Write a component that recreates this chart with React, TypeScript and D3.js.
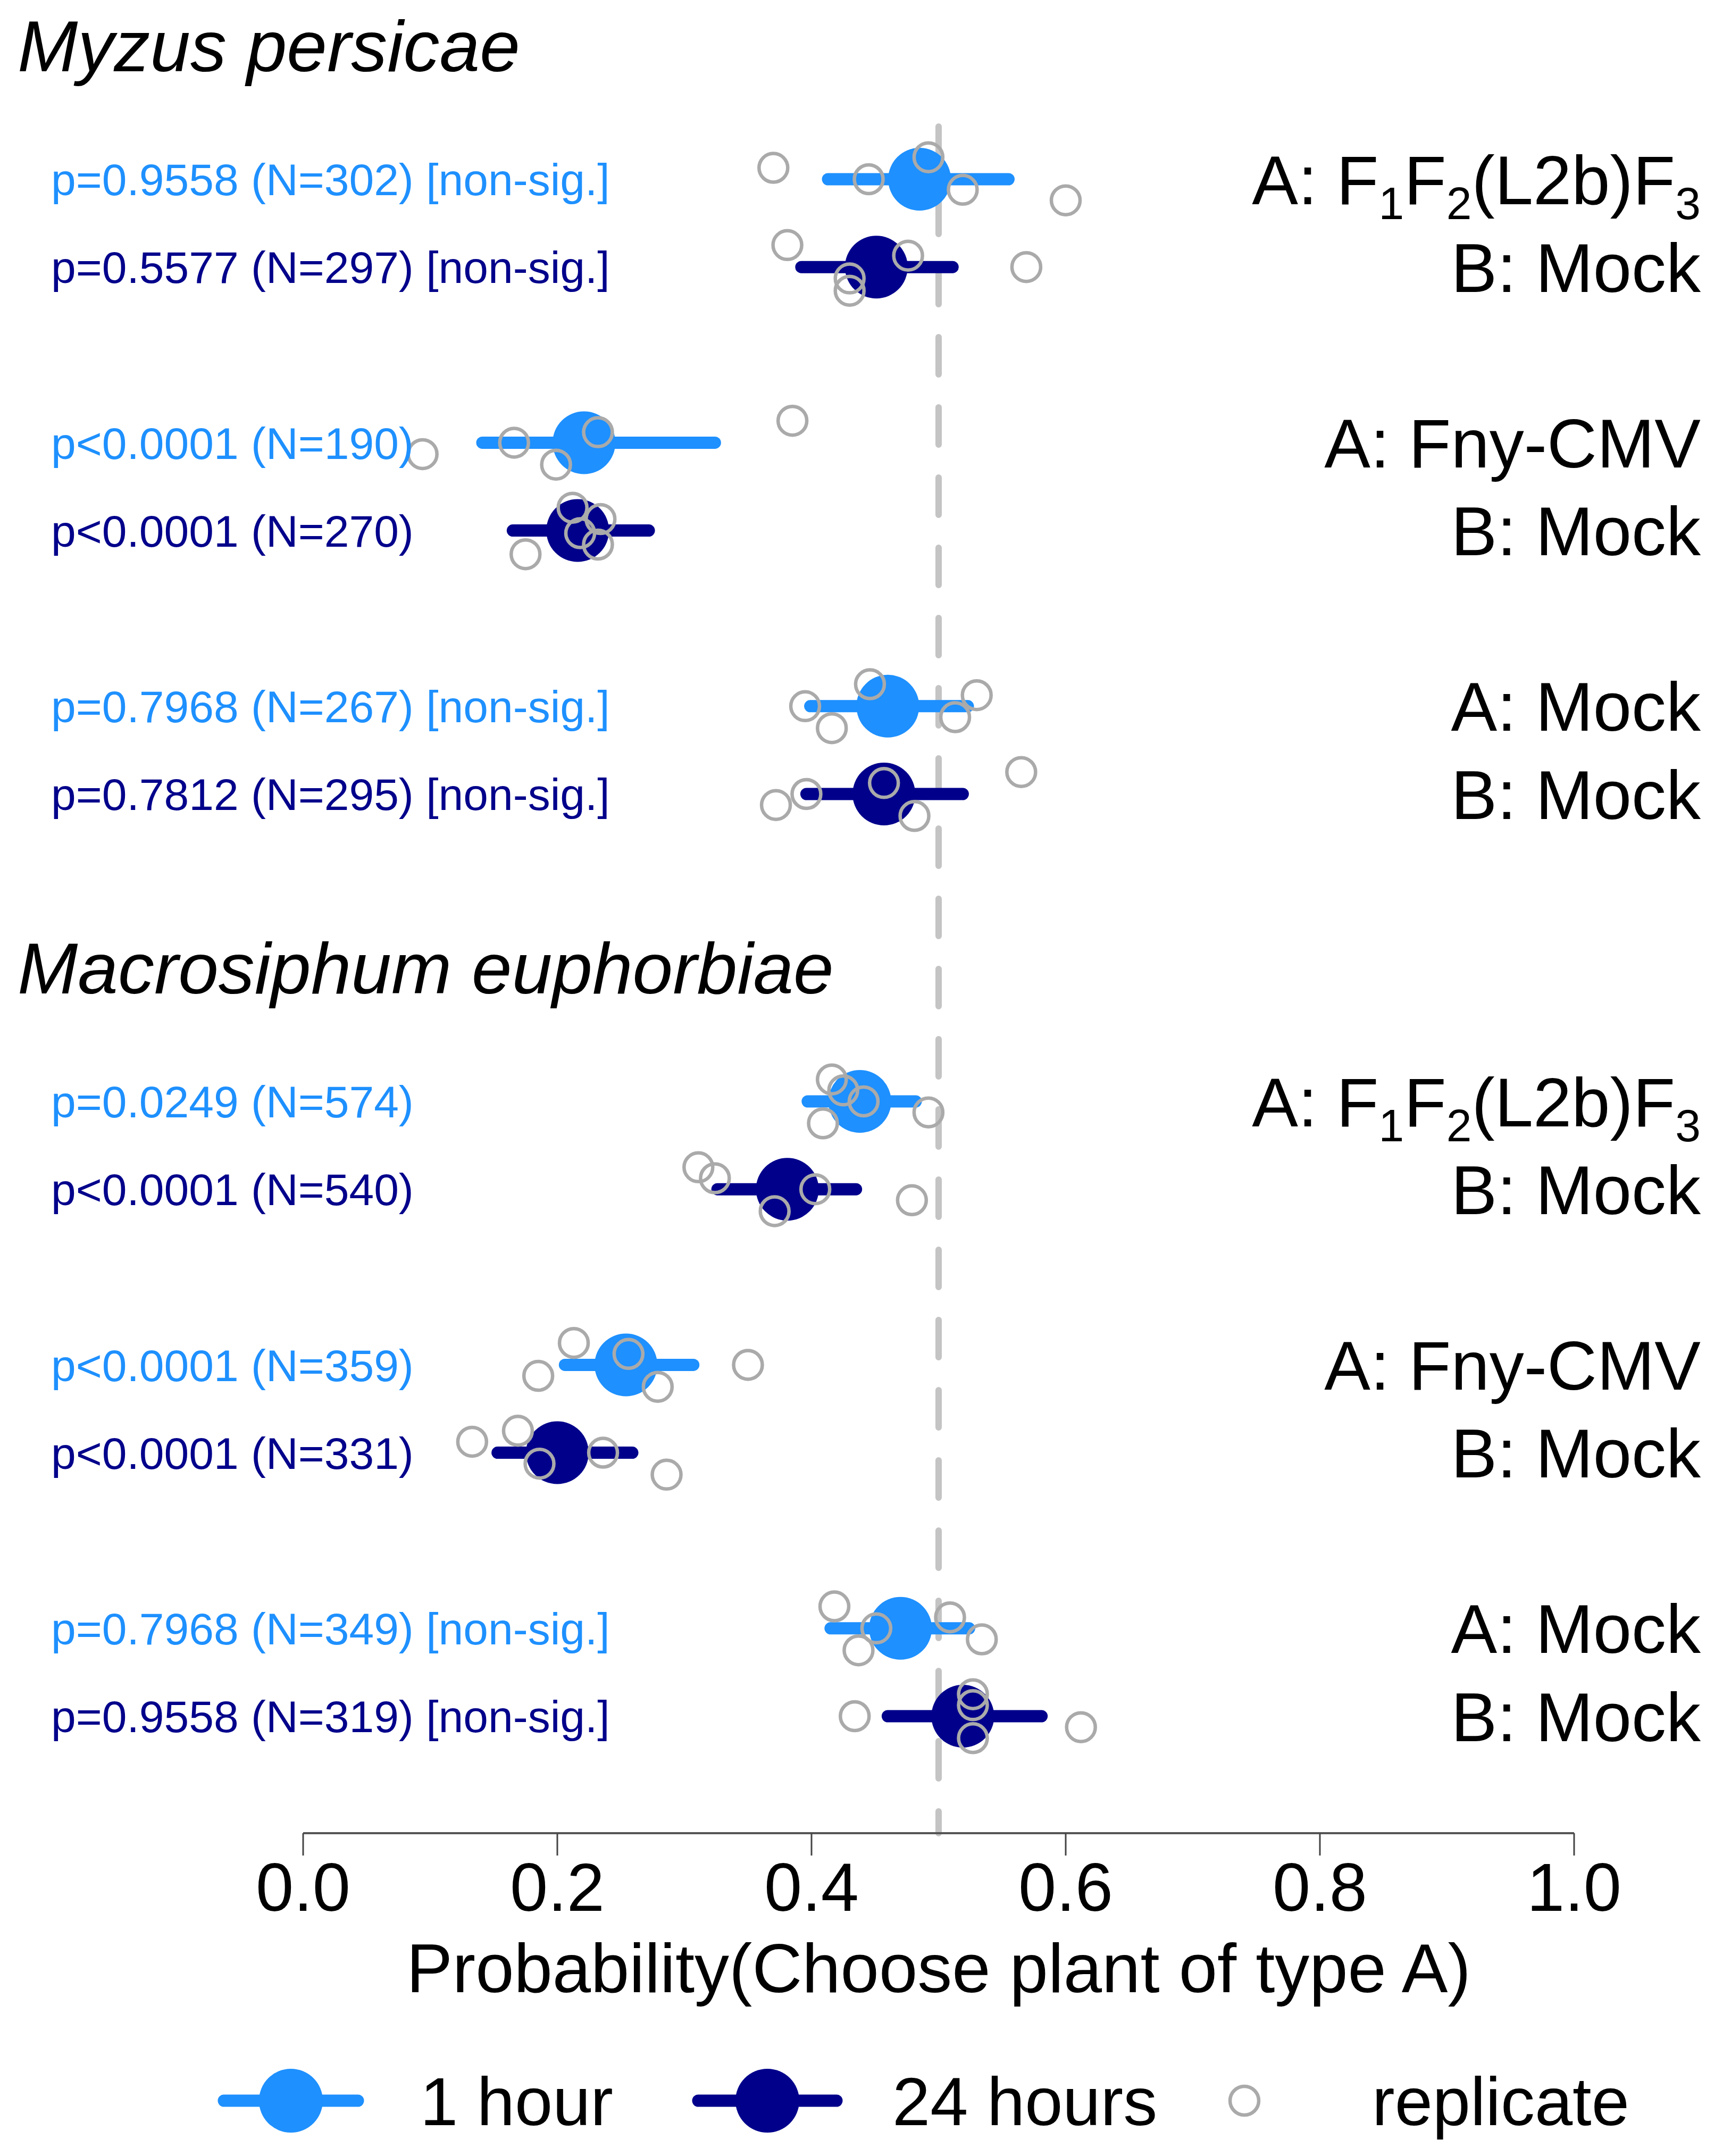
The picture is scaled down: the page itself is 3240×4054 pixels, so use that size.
import React from "react";
import * as d3 from "d3";

const W = 3240;
const H = 4054;

const speciesNames = ["Myzus persicae", "Macrosiphum euphorbiae"];
const plantA = ["F_1F_2(L2b)F_3", "Fny-CMV", "Mock"];
const plantB = ["Mock", "Mock", "Mock"];
const legendLabels = ["1 hour", "24 hours", "replicate"];
const axisTitle = "Probability(Choose plant of type A)";

// rows ordered: species -> comparison -> time (1 hour, 24 hours)
const pLabels = [
  "p=0.9558 (N=302) [non-sig.]",
  "p=0.5577 (N=297) [non-sig.]",
  "p<0.0001 (N=190)",
  "p<0.0001 (N=270)",
  "p=0.7968 (N=267) [non-sig.]",
  "p=0.7812 (N=295) [non-sig.]",
  "p=0.0249 (N=574)",
  "p<0.0001 (N=540)",
  "p<0.0001 (N=359)",
  "p<0.0001 (N=331)",
  "p=0.7968 (N=349) [non-sig.]",
  "p=0.9558 (N=319) [non-sig.]",
];
const means = [0.485, 0.451, 0.221, 0.216, 0.46, 0.457, 0.438, 0.381, 0.254, 0.2, 0.47, 0.519];
const ciLow = [0.413, 0.392, 0.141, 0.165, 0.399, 0.396, 0.397, 0.326, 0.206, 0.153, 0.415, 0.46];
const ciHigh = [0.555, 0.511, 0.324, 0.272, 0.523, 0.519, 0.482, 0.435, 0.307, 0.259, 0.524, 0.581];
const replicateValues = [
  [0.37, 0.445, 0.492, 0.519, 0.6],
  [0.381, 0.43, 0.43, 0.476, 0.569],
  [0.094, 0.166, 0.199, 0.232, 0.385],
  [0.175, 0.212, 0.234, 0.218, 0.232],
  [0.395, 0.416, 0.446, 0.513, 0.53],
  [0.372, 0.396, 0.457, 0.481, 0.565],
  [0.416, 0.425, 0.441, 0.409, 0.492],
  [0.311, 0.324, 0.403, 0.371, 0.479],
  [0.213, 0.185, 0.256, 0.279, 0.35],
  [0.133, 0.169, 0.186, 0.236, 0.286],
  [0.418, 0.451, 0.437, 0.509, 0.534],
  [0.434, 0.527, 0.527, 0.527, 0.612],
];
// vertical jitter of each replicate, in row units
const replicateJitter = [
  [-0.13, 0, -0.25, 0.12, 0.24],
  [-0.25, 0.13, 0.27, -0.13, 0],
  [0.13, 0, 0.25, -0.12, -0.25],
  [0.27, -0.26, -0.13, 0.03, 0.16],
  [0, 0.25, -0.25, 0.125, -0.125],
  [0.125, 0, -0.125, 0.25, -0.25],
  [-0.25, -0.125, 0, 0.25, 0.125],
  [-0.25, -0.125, 0, 0.25, 0.125],
  [-0.25, 0.125, -0.125, 0.25, 0],
  [-0.125, -0.25, 0.125, 0, 0.25],
  [-0.25, 0, 0.25, -0.125, 0.125],
  [0, -0.25, -0.125, 0.25, 0.125],
];
const xTicks = [0, 0.2, 0.4, 0.6, 0.8, 1.0];

const C1 = "#1E90FF";
const C24 = "#00008B";
const REP = "#aaaaaa";
const FONT = "'Liberation Sans', Arial, Helvetica, sans-serif";

function rowUnit(i: number) {
  const s = Math.floor(i / 6);
  const g = Math.floor((i % 6) / 2);
  const t = i % 2;
  return s * 10.5 + g * 3 + t;
}

function SubText({ text, x, y, size, anchor }: { text: string; x: number; y: number; size: number; anchor: string }) {
  // "_d" marks a subscript digit
  const parts: { s: string; sub: boolean }[] = [];
  let buf = "";
  for (let i = 0; i < text.length; i++) {
    if (text[i] === "_" && i + 1 < text.length) {
      if (buf) parts.push({ s: buf, sub: false });
      buf = "";
      parts.push({ s: text[i + 1], sub: true });
      i++;
    } else buf += text[i];
  }
  if (buf) parts.push({ s: buf, sub: false });
  const shift = size * 0.22;
  let cur = 0;
  return (
    <text x={x} y={y} fontSize={size} textAnchor={anchor} fontFamily={FONT} fill="#000">
      {parts.map((p, k) => {
        const target = p.sub ? shift : 0;
        const dy = target - cur;
        cur = target;
        return (
          <tspan key={k} dy={dy} fontSize={p.sub ? size * 0.66 : size}>
            {p.s}
          </tspan>
        );
      })}
    </text>
  );
}

export default function App() {
  const x = d3.scaleLinear().domain([0, 1]).range([570, 2960]);
  const y = d3.scaleLinear().domain([0, 17.5]).range([337, 3227]);
  const axisY = 3447;
  const fmt = d3.format(".1f");
  const rows = d3.range(means.length);
  const labelFs = 130;
  const pFs = 84;
  const legFs = 128;

  return (
    <svg width={W} height={H} style={{ position: "absolute", left: 0, top: 0, background: "#fff" }} fontFamily={FONT}>
      <rect width={W} height={H} fill="#fff" />
      {/* species titles */}
      {speciesNames.map((s, i) => (
        <text key={s} x={33} y={y(i * 10.5) - 203} fontSize={136} fontStyle="italic" fill="#000">
          {s}
        </text>
      ))}
      {/* reference line at 0.5 */}
      <line
        x1={x(0.5)}
        x2={x(0.5)}
        y1={238}
        y2={axisY}
        stroke="#c4c4c4"
        strokeWidth={12}
        strokeDasharray="70 62"
        strokeLinecap="round"
      />
      {/* CI bars and means */}
      {rows.map((i) => {
        const col = i % 2 === 0 ? C1 : C24;
        const yy = y(rowUnit(i));
        return (
          <g key={"m" + i}>
            <line x1={x(ciLow[i])} x2={x(ciHigh[i])} y1={yy} y2={yy} stroke={col} strokeWidth={23} strokeLinecap="round" />
            <circle cx={x(means[i])} cy={yy} r={59} fill={col} />
          </g>
        );
      })}
      {/* replicates */}
      {rows.map((i) => (
        <g key={"r" + i}>
          {replicateValues[i].map((v, k) => (
            <circle
              key={k}
              cx={x(v)}
              cy={y(rowUnit(i) + replicateJitter[i][k])}
              r={27}
              fill="none"
              stroke={REP}
              strokeWidth={6.5}
            />
          ))}
        </g>
      ))}
      {/* p-value labels */}
      {rows.map((i) => (
        <text key={"p" + i} x={96} y={y(rowUnit(i)) + pFs * 0.358} fontSize={pFs} fill={i % 2 === 0 ? C1 : C24}>
          {pLabels[i]}
        </text>
      ))}
      {/* comparison labels */}
      {rows.map((i) => {
        const g = Math.floor((i % 6) / 2);
        const txt = i % 2 === 0 ? "A: " + plantA[g] : "B: " + plantB[g];
        return <SubText key={"c" + i} text={txt} x={3198} y={y(rowUnit(i)) + labelFs * 0.358} size={labelFs} anchor="end" />;
      })}
      {/* x axis */}
      <line x1={x(0)} x2={x(1)} y1={axisY} y2={axisY} stroke="#555" strokeWidth={4} />
      {xTicks.map((t) => (
        <g key={t}>
          <line x1={x(t)} x2={x(t)} y1={axisY} y2={axisY + 42} stroke="#444" strokeWidth={3} />
          <text x={x(t)} y={3593} fontSize={128} textAnchor="middle" fill="#000">
            {fmt(t)}
          </text>
        </g>
      ))}
      <text x={x(0.5)} y={3746} fontSize={130} textAnchor="middle" fill="#000">
        {axisTitle}
      </text>
      {/* legend */}
      <g>
        <line x1={421} x2={673} y1={3950} y2={3950} stroke={C1} strokeWidth={23} strokeLinecap="round" />
        <circle cx={547} cy={3950} r={60} fill={C1} />
        <text x={790} y={3950 + legFs * 0.358} fontSize={legFs} fill="#000">
          {legendLabels[0]}
        </text>
        <line x1={1313} x2={1573} y1={3950} y2={3950} stroke={C24} strokeWidth={23} strokeLinecap="round" />
        <circle cx={1443} cy={3950} r={60} fill={C24} />
        <text x={1678} y={3950 + legFs * 0.358} fontSize={legFs} fill="#000">
          {legendLabels[1]}
        </text>
        <circle cx={2340} cy={3950} r={27} fill="none" stroke={REP} strokeWidth={6.5} />
        <text x={2580} y={3950 + legFs * 0.358} fontSize={legFs} fill="#000">
          {legendLabels[2]}
        </text>
      </g>
    </svg>
  );
}
